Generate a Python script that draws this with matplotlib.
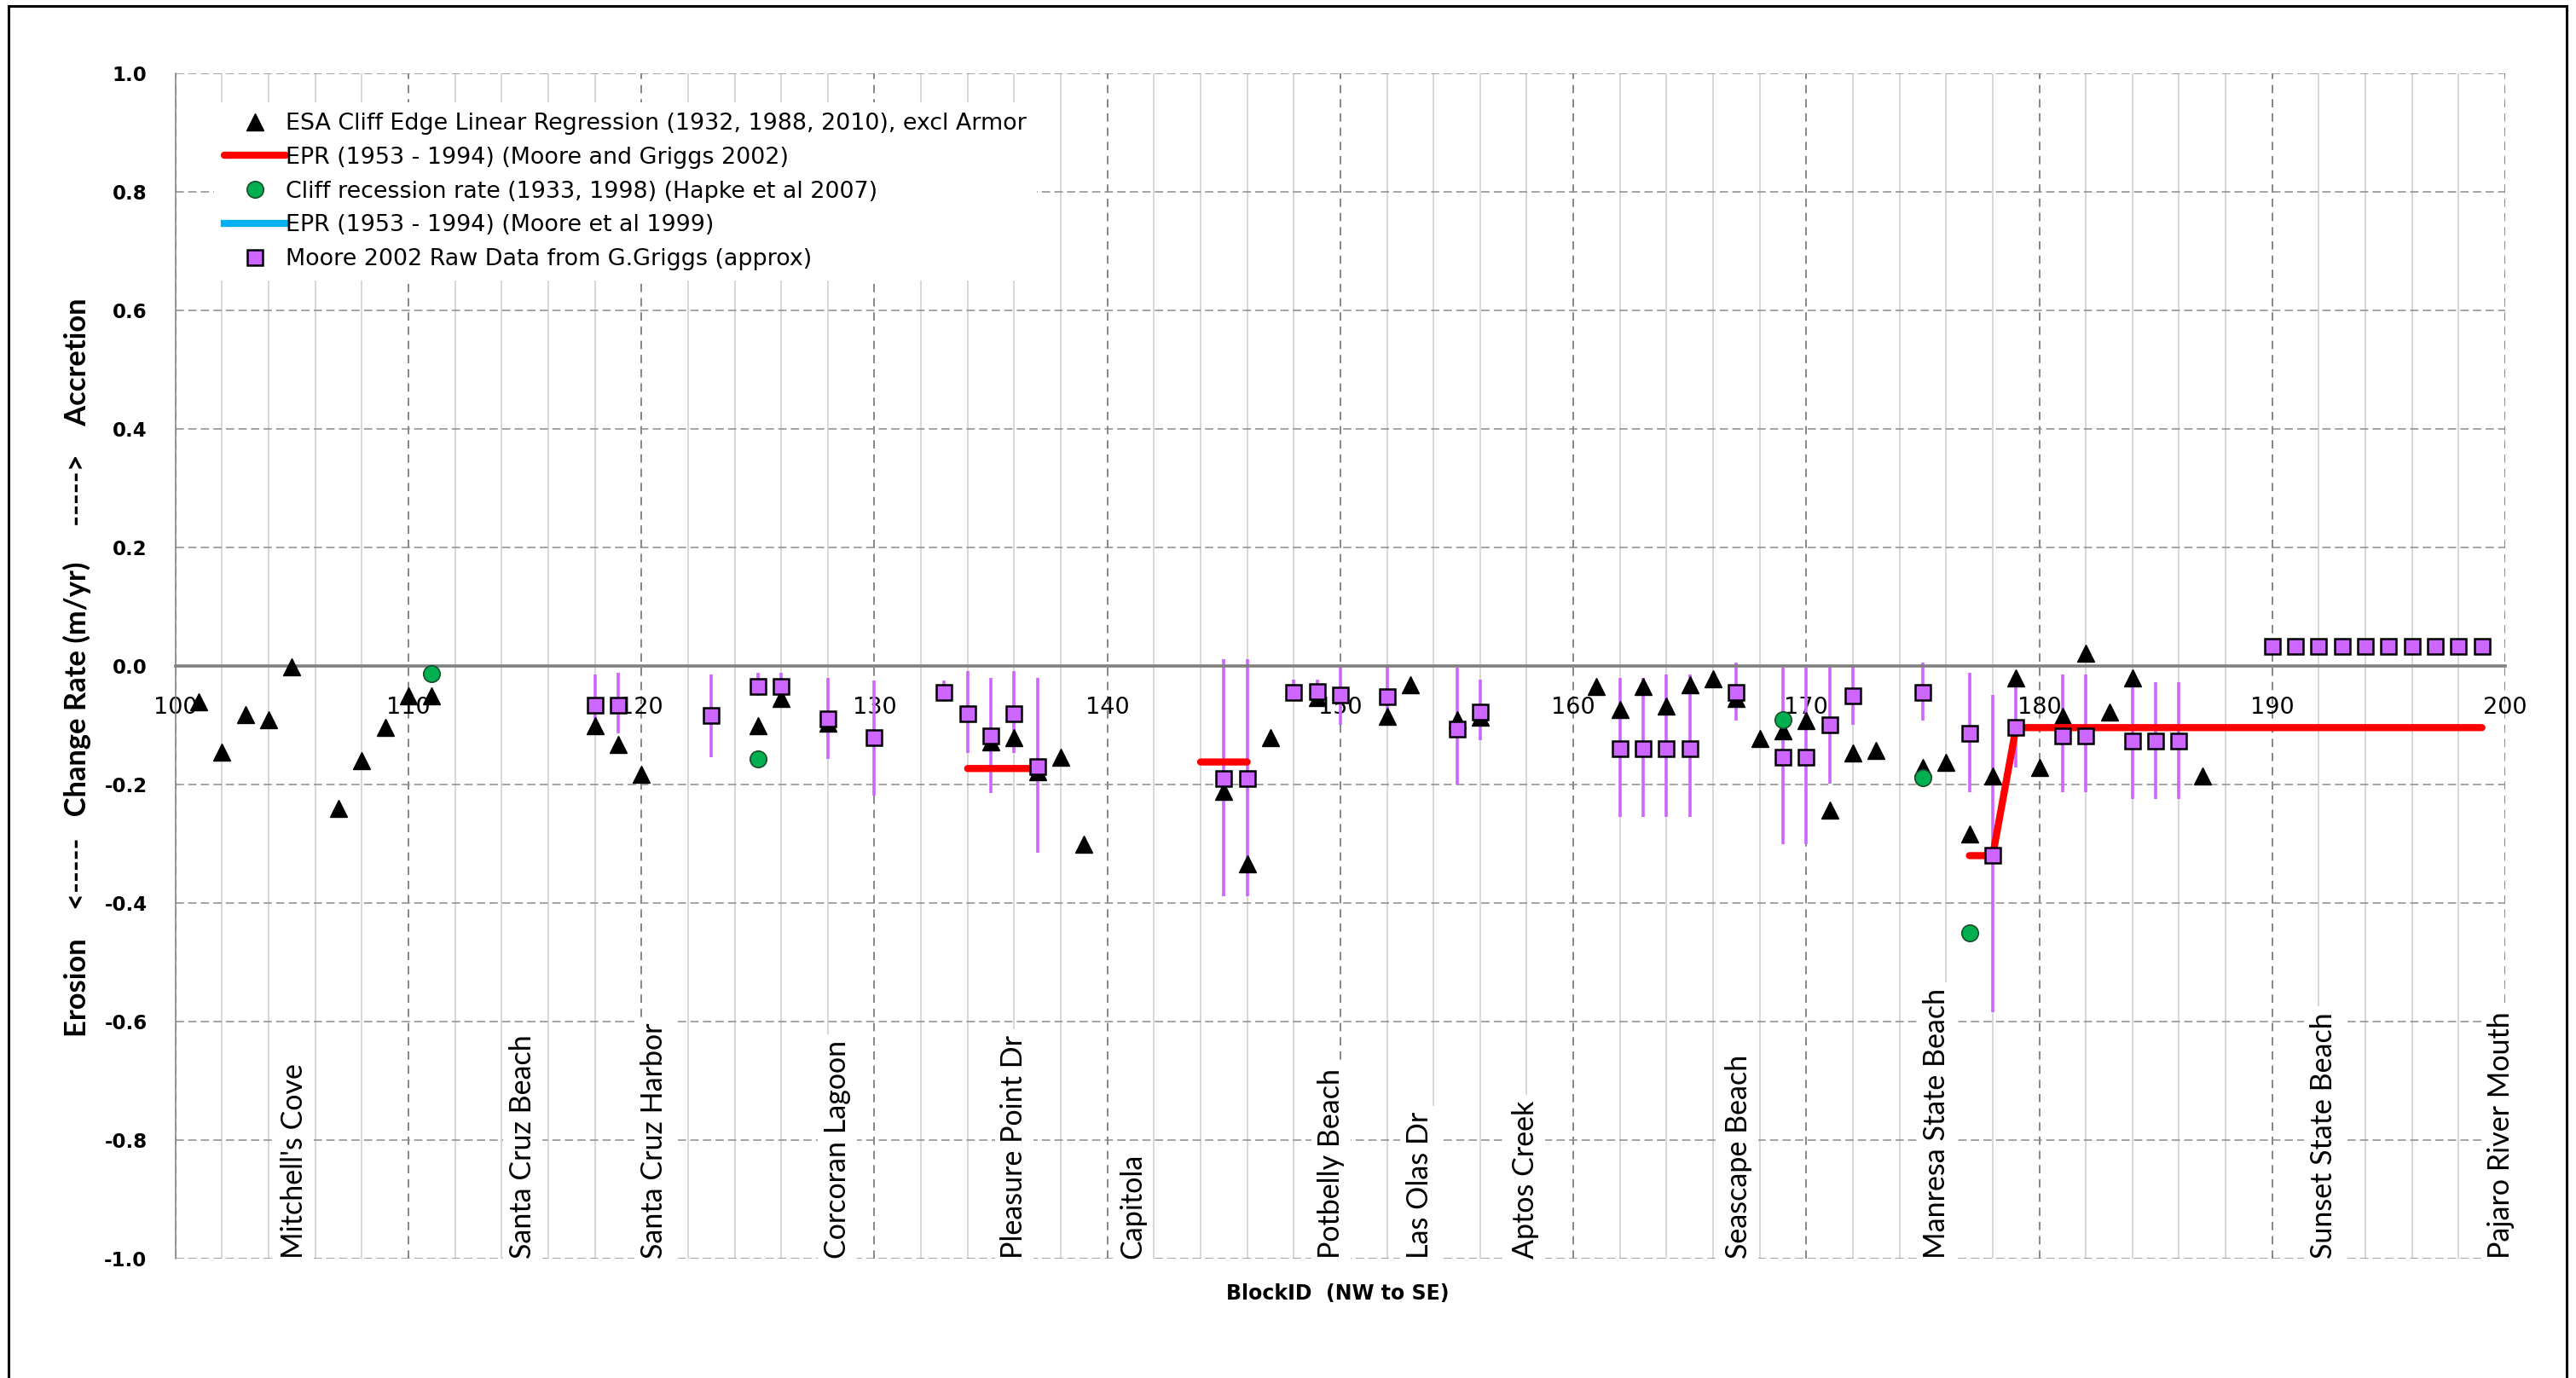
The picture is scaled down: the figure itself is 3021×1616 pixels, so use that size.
import matplotlib
matplotlib.use('Agg')
import matplotlib.pyplot as plt
import numpy as np
from matplotlib.patches import Rectangle

plt.rcParams['lines.scale_dashes'] = False

# ESA Cliff Edge Linear Regression (triangles)
esa_x = [101, 102, 103, 104, 105, 107, 108, 109, 110, 111,
         118, 119, 120, 125, 126, 128, 135, 136, 137, 138, 139,
         145, 146, 147, 149, 152, 153, 155, 156,
         161, 162, 163, 164, 165, 166, 167, 168, 169, 170, 171, 172, 173,
         175, 176, 177, 178, 179, 180, 181, 182, 183, 184, 187]
esa_y = [-0.061, -0.145, -0.082, -0.091, -0.002, -0.240, -0.159, -0.104, -0.051, -0.051,
         -0.100, -0.133, -0.183, -0.100, -0.054, -0.097, -0.128, -0.121, -0.178, -0.154, -0.300,
         -0.212, -0.334, -0.121, -0.053, -0.085, -0.032, -0.090, -0.087,
         -0.035, -0.073, -0.035, -0.068, -0.032, -0.021, -0.055, -0.123, -0.109, -0.092, -0.243, -0.147, -0.142,
         -0.171, -0.162, -0.284, -0.186, -0.020, -0.171, -0.085, 0.021, -0.078, -0.020, -0.185]

# Cliff recession rate (Hapke et al 2007)
hapke_x = [111, 125, 169, 175, 177]
hapke_y = [-0.013, -0.157, -0.091, -0.188, -0.450]

# EPR (Moore and Griggs 2002), nan = gap between segments
epr02_x = [134, 137, np.nan, 144, 146, np.nan, 177, 178, 179, 199]
epr02_y = [-0.173, -0.173, np.nan, -0.162, -0.162, np.nan, -0.320, -0.320, -0.104, -0.104]

# EPR (Moore et al 1999) - nothing in range
epr99_x = []
epr99_y = []

# Moore 2002 raw data from G.Griggs, with range bars
moore_x = [118, 119, 123, 125, 126, 128, 130, 133, 134, 135, 136, 137,
           145, 146, 148, 149, 150, 152, 155, 156, 162, 163, 164, 165,
           167, 169, 170, 171, 172, 175, 177, 178, 179, 181, 182, 184, 185, 186,
           190, 191, 192, 193, 194, 195, 196, 197, 198, 199]
moore_y = [-0.066, -0.066, -0.084, -0.034, -0.034, -0.089, -0.121, -0.044, -0.080, -0.118, -0.080, -0.170,
           -0.190, -0.190, -0.044, -0.043, -0.049, -0.052, -0.106, -0.078, -0.140, -0.140, -0.140, -0.140,
           -0.044, -0.154, -0.154, -0.099, -0.051, -0.044, -0.114, -0.320, -0.104, -0.118, -0.118, -0.126, -0.126, -0.126,
           0.033, 0.033, 0.033, 0.033, 0.033, 0.033, 0.033, 0.033, 0.033, 0.033]
moore_hi = [-0.015, -0.012, -0.015, -0.012, -0.012, -0.020, -0.024, -0.024, -0.008, -0.020, -0.008, -0.020,
            0.011, 0.011, -0.023, -0.023, -0.001, -0.001, -0.003, -0.023, -0.020, -0.020, -0.015, -0.015,
            0.006, -0.003, -0.003, 0.002, -0.001, 0.006, -0.012, -0.049, -0.012, -0.015, -0.015, -0.012, -0.027, -0.027,
            0.033, 0.033, 0.033, 0.033, 0.033, 0.033, 0.033, 0.033, 0.033, 0.033]
moore_lo = [-0.115, -0.114, -0.154, -0.051, -0.056, -0.157, -0.219, -0.061, -0.147, -0.215, -0.147, -0.315,
            -0.389, -0.389, -0.059, -0.060, -0.099, -0.100, -0.200, -0.125, -0.255, -0.255, -0.255, -0.255,
            -0.092, -0.300, -0.300, -0.198, -0.099, -0.092, -0.213, -0.584, -0.171, -0.213, -0.213, -0.224, -0.224, -0.224,
            0.033, 0.033, 0.033, 0.033, 0.033, 0.033, 0.033, 0.033, 0.033, 0.033]

# place names along the coast
places = ["Mitchell's Cove", "Santa Cruz Beach", "Santa Cruz Harbor", "Corcoran Lagoon",
          "Pleasure Point Dr", "Capitola", "Potbelly Beach", "Las Olas Dr", "Aptos Creek",
          "Seascape Beach", "Manresa State Beach", "Sunset State Beach", "Pajaro River Mouth"]
place_x = [105.1, 114.9, 120.55, 128.4, 136.0, 141.1, 149.6, 153.4, 157.95,
           167.1, 175.6, 192.2, 199.8]

W, H = 3021, 1616
fig = plt.figure(figsize=(W / 100, H / 100), dpi=100)
ax = fig.add_axes([205.8 / W, 1 - 1476 / H, (2938 - 205.8) / W, (1476 - 86) / H])

ax.set_xlim(100, 200)
ax.set_ylim(-1, 1)

# grid
ax.set_xticks(np.arange(100, 201, 10))
ax.set_xticks(np.arange(100, 201, 2), minor=True)
yt = np.round(np.arange(-1, 1.01, 0.2), 1)
ax.set_yticks(yt)
ax.grid(axis='x', which='minor', color='#d4d4d4', lw=1.3, ls='-', zorder=0)
ax.grid(axis='x', which='major', color='#666666', lw=1.1, ls=(0, (7, 5)), zorder=0)
ax.grid(axis='y', which='major', color='#8c8c8c', lw=1.1, ls=(0, (7, 3.6)), zorder=0)
ax.set_axisbelow(True)

for s in ['top', 'right']:
    ax.spines[s].set_visible(False)
ax.spines['left'].set_color('#808080')
ax.spines['left'].set_linewidth(1.1)
ax.spines['bottom'].set_position(('data', 0))
ax.spines['bottom'].set_color('#808080')
ax.spines['bottom'].set_linewidth(2.6)

ax.tick_params(axis='x', which='both', length=0, pad=26, labelsize=19.5)
ax.tick_params(axis='y', which='both', length=0, pad=24, labelsize=16.5)
ax.set_yticklabels(['%.1f' % abs(v) if v == 0 else '%.1f' % v for v in yt], fontweight='bold')

# range bars
ax.vlines(moore_x, moore_lo, moore_hi, colors='#CC66FF', lw=2.6, zorder=2)

ax.plot(esa_x, esa_y, ls='none', marker='^', ms=15, color='black', mec='black',
        zorder=3, label='ESA Cliff Edge Linear Regression (1932, 1988, 2010), excl Armor')
ax.plot(epr02_x, epr02_y, color='#FF0000', lw=6, solid_capstyle='round', zorder=4,
        label='EPR (1953 - 1994) (Moore and Griggs 2002)')
ax.plot(hapke_x, hapke_y, ls='none', marker='o', ms=14, color='#00B050', mec='#1a4d2a',
        mew=1.2, zorder=5, label='Cliff recession rate (1933, 1998) (Hapke et al 2007)')
ax.plot(epr99_x, epr99_y, color='#00B0F0', lw=6, label='EPR (1953 - 1994) (Moore et al 1999)')
ax.plot(moore_x, moore_y, ls='none', marker='s', ms=13.5, color='#CC66FF', mec='black',
        mew=1.8, zorder=6, label='Moore 2002 Raw Data from G.Griggs (approx)')

leg = ax.legend(loc='upper left', bbox_to_anchor=((251 - 205.8) / 2732, 1 - (120 - 86) / 1390),
                borderaxespad=0, frameon=True, fancybox=False, framealpha=1,
                edgecolor='none', facecolor='white', fontsize=19.4,
                handlelength=2.65, handletextpad=0.0, labelspacing=0.51, borderpad=0.45)
leg.set_zorder(7)

for name, x in zip(places, place_x):
    ax.text(x, -1.0, name, rotation=90, ha='center', va='bottom', fontsize=24.5,
            family=['Lato', 'DejaVu Sans'], zorder=1.5,
            bbox=dict(fc='white', ec='none', pad=5))

fig.text(90 / W, 1 - 783 / H, 'Erosion    <-----   Change Rate (m/yr)     ----->    Accretion',
         rotation=90, ha='center', va='center', fontsize=24.8, fontweight='bold',
         family=['Lato', 'DejaVu Sans'])
fig.text(1569 / W, 1 - 1517 / H, 'BlockID  (NW to SE)', ha='center', va='center',
         fontsize=17, fontweight='bold')

fig.patches.append(Rectangle((10 / W, -0.01), (3010 - 10) / W, 1.01 - 7 / H,
                             transform=fig.transFigure, fill=False, ec='black', lw=2.2))

fig.savefig('out.png', dpi=100)
